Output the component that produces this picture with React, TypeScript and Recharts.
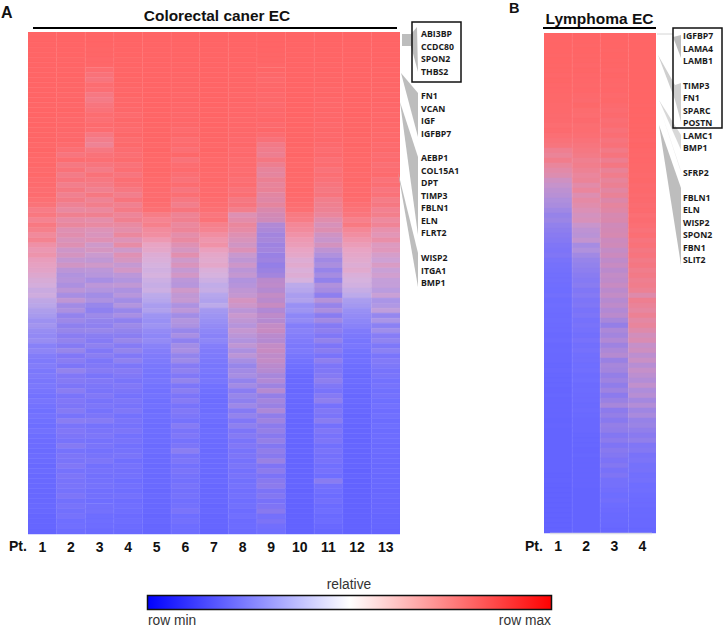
import { BarChart, Bar, Cell, XAxis, YAxis, ReferenceLine } from "recharts";

// expression per row, top to bottom (0 = row min, 100 = row max)
const crc1 = [
  99,99,99,99,99,99,99,99,99,99, 99,99,99,99,98,99,99,98,99,98, 98,98,97,98,97,96,97,95,96,94, 94,92,93,90,88,82,85,78,84,80,
  74,78,70,66,68,62,60,58,55,52, 50,46,48,42,40,36,34,30,32,28, 26,28,22,24,20,18,20,16,18,15, 16,14,12,14,12,10,12,10,9,11,
  9,8,8,7,8,7,6,7,6,6, 6,5,5,5,6,5,4,4,4,3,
];
const crc2 = [
  99,99,99,99,99,98,99,98,99,98, 98,98,97,98,97,98,97,96,97,96, 95,96,94,90,86,92,84,88,82,86, 80,84,78,82,76,70,78,68,72,62,
  64,58,62,52,56,48,54,44,40,42, 38,44,36,46,34,38,28,32,26,30, 24,28,22,30,20,24,18,28,20,22, 18,24,16,20,18,22,15,24,16,20,
  18,15,22,14,18,16,20,14,18,15, 16,14,18,12,15,12,14,10,11,9,
];
const crc3 = [
  99,99,99,98,98,97,97,92,88,86, 92,90,84,82,86,88,92,90,94,92, 84,80,76,84,88,90,86,82,88,84, 82,78,84,76,80,72,78,66,70,60,
  58,62,52,56,50,46,52,44,42,36, 44,40,34,38,30,26,32,28,26,30, 24,22,26,20,24,18,20,22,16,20, 18,16,20,15,18,14,17,22,14,16,
  18,14,16,13,15,18,12,14,12,13, 14,11,12,10,12,13,9,10,9,8,
];
const crc4 = [
  99,99,99,99,99,98,99,98,99,98, 98,97,98,96,97,96,94,96,95,94, 96,93,95,92,90,93,88,90,86,90, 88,84,80,86,78,82,74,78,70,66,
  72,60,68,52,62,56,48,54,44,40, 46,38,42,34,40,30,36,26,32,28, 24,30,22,28,20,26,18,22,20,16, 20,17,14,18,15,19,13,16,14,17,
  13,15,12,14,16,11,14,12,13,10, 12,10,13,9,11,10,8,9,8,7,
];
const crc5 = [
  99,99,99,99,99,99,99,99,99,99, 99,99,99,99,99,99,98,99,98,98, 98,98,97,98,97,97,96,97,96,95, 95,94,93,94,92,90,82,78,80,74,
  72,66,60,58,54,52,50,48,50,46, 44,46,40,38,34,36,30,28,30,26, 24,26,22,20,18,17,15,14,13,14, 12,11,12,10,11,9,10,9,8,9,
  8,8,7,8,7,7,6,7,6,6, 6,5,6,5,5,5,4,5,4,4,
];
const crc6 = [
  99,99,99,99,99,99,98,99,98,98, 98,98,97,98,97,97,96,97,96,94, 96,92,94,90,96,88,92,94,90,88, 92,86,90,84,80,86,76,78,72,74,
  66,70,62,56,64,52,58,48,54,44, 42,52,46,48,38,44,34,40,38,30, 36,26,34,36,28,32,22,26,20,28, 18,24,17,22,15,20,18,14,22,16,
  19,14,17,24,15,18,13,16,14,12, 15,12,14,11,13,16,10,12,9,9,
];
const crc7 = [
  99,99,99,99,99,99,99,99,99,99, 99,99,99,99,99,98,99,98,99,98, 98,98,97,98,97,96,97,96,95,96, 95,94,95,93,92,90,86,88,80,78,
  72,68,70,62,58,56,58,52,50,46, 42,44,38,36,40,32,30,28,26,24, 22,24,20,18,17,16,14,15,13,14, 11,10,9,8,9,8,10,8,7,8,
  8,7,7,6,7,6,6,6,5,6, 5,5,5,5,4,5,4,4,4,3,
];
const crc8 = [
  99,99,99,99,99,99,98,99,98,98, 98,98,97,98,97,97,97,96,97,96, 96,95,96,94,95,93,94,92,93,90, 92,88,90,84,86,80,62,66,72,68,
  62,58,54,60,50,46,52,44,48,40, 42,46,48,56,52,44,50,46,42,48, 44,40,46,38,44,36,30,34,36,28, 34,24,30,26,32,22,28,20,26,18,
  22,16,20,15,18,14,17,13,15,12, 14,11,13,10,12,9,11,8,9,8,
];
const crc9 = [
  99,99,99,99,98,98,97,98,96,95, 96,97,95,96,94,96,95,97,94,96, 92,88,82,80,78,84,78,72,70,76, 72,74,68,66,70,62,58,56,42,40,
  36,38,34,36,32,34,30,33,36,46, 48,44,50,46,52,42,48,44,50,52, 46,44,50,52,48,50,46,44,38,42, 34,44,30,36,32,40,28,34,26,30,
  24,30,22,28,24,32,20,26,18,24, 26,18,22,16,20,24,14,18,12,11,
];
const crc10 = [
  99,99,99,99,99,99,99,99,99,99, 99,99,99,99,99,99,99,98,99,98, 98,98,98,97,98,97,96,97,96,96, 95,96,95,94,92,90,84,82,76,74,
  70,66,64,60,58,54,56,52,54,50, 40,38,34,36,28,30,24,26,20,22, 20,18,16,17,14,12,10,8,6,6, 6,5,6,5,5,4,5,4,4,4,
  4,4,3,4,3,3,3,3,3,3, 3,2,3,2,2,2,2,2,2,2,
];
const crc11 = [
  99,99,99,99,99,99,98,99,98,98, 98,97,98,97,96,97,96,97,95,96, 95,96,94,92,94,90,92,88,90,88, 86,84,86,80,78,76,72,64,58,62,
  54,50,56,46,40,34,38,30,36,28, 40,36,26,42,30,38,24,34,22,26, 20,28,18,24,16,26,18,20,22,26, 20,16,22,26,14,20,17,24,13,19,
  15,18,12,16,13,15,11,14,10,24, 13,11,9,12,8,10,7,9,6,5,
];
const crc12 = [
  99,99,99,99,99,99,99,99,99,99, 99,99,99,99,98,99,99,98,98,98, 98,97,98,97,97,96,97,96,95,96, 95,94,95,93,90,88,86,80,84,76,
  72,68,64,60,58,56,54,56,52,50, 48,44,40,34,32,28,26,24,22,18, 16,14,15,12,10,11,9,8,7,8, 7,6,5,6,5,5,4,5,4,4,
  4,3,4,3,3,3,3,2,3,2, 2,2,2,2,2,2,2,2,2,2,
];
const crc13 = [
  99,99,99,99,99,99,99,98,99,98, 98,98,97,98,97,97,96,97,96,96, 95,96,94,95,92,94,90,92,94,88, 90,86,88,82,84,78,80,72,76,66,
  62,68,58,60,54,50,56,48,52,46, 46,42,48,36,38,44,28,36,24,32, 22,26,18,24,16,20,18,14,16,12, 14,11,13,10,12,9,11,8,10,8,
  9,8,7,8,7,7,6,7,6,6, 6,5,6,5,5,5,4,4,4,3,
];

const lym1 = [
  99,99,99,99,98,99,98,98,97,98, 97,97,96,96,95,95,94,94,92,93, 90,88,86,78,74,80,72,66,62,54, 50,46,44,40,38,34,30,32,28,26,
  24,22,20,18,20,16,14,13,12,12, 11,10,12,9,10,9,8,9,8,8, 7,8,6,7,6,6,5,6,5,5, 5,4,5,4,4,4,4,3,4,3,
  3,3,3,3,3,3,3,3,2,3, 2,2,2,2,2,2,2,2,2,2,
];
const lym2 = [
  99,99,98,99,98,98,97,98,97,97, 96,97,95,94,96,93,92,94,91,92, 90,88,86,84,82,78,80,76,72,74, 66,72,62,68,64,60,56,58,50,46,
  44,48,36,40,34,30,28,26,24,22, 24,20,22,18,20,16,18,14,16,14, 12,15,12,14,11,12,10,11,9,10, 8,9,8,8,7,8,7,6,6,6,
  5,5,5,4,5,4,4,4,4,4, 4,3,3,3,3,3,3,3,3,3,
];
const lym3 = [
  99,99,99,98,99,98,98,97,98,97, 96,97,95,96,94,92,94,90,92,88, 90,86,88,82,86,78,84,74,80,72, 76,68,74,64,70,66,60,62,56,58,
  60,54,56,50,54,48,52,46,50,48, 52,46,50,44,48,42,46,38,30,40, 36,42,34,40,44,32,38,36,30,34, 28,34,26,32,38,26,30,24,30,28,
  22,26,20,24,22,18,22,16,20,14, 14,12,10,12,9,8,7,7,6,5,
];
const lym4 = [
  99,99,99,99,99,99,99,99,99,99, 99,99,99,99,98,99,98,99,98,98, 98,97,98,97,96,97,96,96,95,96, 94,95,93,94,92,93,90,92,90,88,
  90,86,88,84,86,82,84,80,82,78, 80,76,64,78,74,70,76,68,72,64, 56,60,50,54,46,52,44,50,46,42, 48,40,44,36,42,34,38,30,32,28,
  24,28,20,22,16,18,14,15,12,13, 10,11,9,8,8,7,7,6,6,5,
];

const crcSeries = [crc1, crc2, crc3, crc4, crc5, crc6, crc7, crc8, crc9, crc10, crc11, crc12, crc13];
const lymSeries = [lym1, lym2, lym3, lym4];
const crcPatients = ["1", "2", "3", "4", "5", "6", "7", "8", "9", "10", "11", "12", "13"];
const lymPatients = ["1", "2", "3", "4"];

// how washed out each patient's column looks (1 = pale mid tones, 0 = purple mid tones)
const crcPale = [0.9, 0.45, 0.5, 0.5, 1, 0.5, 1, 0.45, 0.2, 1, 0.4, 1, 0.65];
const lymPale = [0.35, 0.4, 0.2, 0.3];

const crcGenes: [string, number][] = [
  ["ABI3BP", 34], ["CCDC80", 46.5], ["SPON2", 59], ["THBS2", 71.5],
  ["FN1", 96], ["VCAN", 108.5], ["IGF", 121], ["IGFBP7", 133.5],
  ["AEBP1", 158], ["COL15A1", 170.5], ["DPT", 183], ["TIMP3", 195.5], ["FBLN1", 208], ["ELN", 220.5], ["FLRT2", 233],
  ["WISP2", 258], ["ITGA1", 270.5], ["BMP1", 283],
];
const lymGenes: [string, number][] = [
  ["IGFBP7", 36], ["LAMA4", 48.5], ["LAMB1", 61],
  ["TIMP3", 86], ["FN1", 98], ["SPARC", 110.5], ["POSTN", 123], ["LAMC1", 135.5], ["BMP1", 148],
  ["SFRP2", 173],
  ["FBLN1", 197.5], ["ELN", 210], ["WISP2", 222.5], ["SPON2", 235], ["FBN1", 247.5], ["SLIT2", 260],
];

const paleStops = [
  [0, 96, 96, 255], [10, 112, 112, 255], [20, 132, 126, 250], [30, 158, 148, 242], [40, 188, 170, 234],
  [50, 214, 178, 222], [60, 232, 164, 196], [70, 240, 146, 168], [80, 246, 128, 140], [90, 252, 112, 116], [100, 255, 100, 100],
];
const satStops = [
  [0, 96, 96, 255], [10, 110, 108, 255], [20, 126, 114, 244], [30, 146, 122, 228], [40, 168, 128, 212],
  [50, 190, 130, 192], [60, 210, 130, 172], [70, 226, 130, 156], [80, 238, 124, 140], [90, 250, 110, 116], [100, 255, 100, 100],
];

function sample(stops: number[][], v: number) {
  for (let i = 1; i < stops.length; i++) {
    if (v <= stops[i][0]) {
      const a = stops[i - 1];
      const b = stops[i];
      const t = (v - a[0]) / (b[0] - a[0]);
      return [a[1] + (b[1] - a[1]) * t, a[2] + (b[2] - a[2]) * t, a[3] + (b[3] - a[3]) * t];
    }
  }
  return stops[stops.length - 1].slice(1);
}

function heatColor(v: number, pale: number) {
  const p = sample(paleStops, v);
  const s = sample(satStops, v);
  const c = p.map((x, i) => Math.round(x * pale + s[i] * (1 - pale)));
  return `rgb(${c[0]},${c[1]},${c[2]})`;
}

function Heatmap(props: any) {
  const { series, patients, pale, left, top, width, height } = props;
  const rows = series[0].map((_: number, i: number) => ({ row: i, unit: 1 }));
  const n = series.length;
  return (
    <div style={{ position: "absolute", left, top }}>
      <BarChart
        width={width}
        height={height + 28}
        data={rows}
        layout="vertical"
        barCategoryGap={0}
        margin={{ top: 0, right: 0, bottom: 0, left: 0 }}
      >
        <YAxis type="category" dataKey="row" hide />
        <XAxis
          type="number"
          domain={[0, n]}
          ticks={patients.map((_: string, i: number) => i + 0.5)}
          interval={0}
          tickFormatter={(v: number) => patients[Math.floor(v)]}
          axisLine={false}
          tickLine={false}
          height={28}
          tickMargin={2}
          tick={{ fontSize: 14, fontWeight: 700, fill: "#111", fontFamily: "Liberation Sans" }}
        />
        {series.map((col: number[], c: number) => (
          <Bar key={c} dataKey="unit" stackId="cols" isAnimationActive={false}>
            {col.map((v: number, i: number) => {
              const fill = heatColor(v, pale[c]);
              return <Cell key={i} fill={fill} stroke={fill} strokeWidth={0.5} />;
            })}
          </Bar>
        ))}
        {patients.slice(1).map((_: string, i: number) => (
          <ReferenceLine key={i} x={i + 1} stroke="rgba(255,255,255,0.08)" />
        ))}
      </BarChart>
    </div>
  );
}

function ColorBar() {
  return (
    <div style={{ position: "absolute", left: 147, top: 595 }}>
      <BarChart width={405} height={15} data={[{ name: "relative", unit: 1 }]} layout="vertical" barCategoryGap={0}
        margin={{ top: 0, right: 0, bottom: 0, left: 0 }}>
        <defs>
          <linearGradient id="rowScale" x1="0" x2="1" y1="0" y2="0">
            <stop offset="0" stopColor="#0000ff" />
            <stop offset="0.5" stopColor="#ffffff" />
            <stop offset="1" stopColor="#ff0000" />
          </linearGradient>
        </defs>
        <XAxis type="number" domain={[0, 1]} hide />
        <YAxis type="category" dataKey="name" hide />
        <Bar dataKey="unit" fill="url(#rowScale)" isAnimationActive={false} />
      </BarChart>
    </div>
  );
}

const wedge = "#bdbdbd";
const labelFont = { fontFamily: "Open Sans", fontWeight: 700, fontSize: 8.7, fill: "#1a1a1a" };

function Annotations() {
  return (
    <svg width={723} height={628} style={{ position: "absolute", left: 0, top: 0 }}>
      <g fontFamily="Liberation Sans" fill="#111">
        <text x={1} y={18} fontSize={16} fontWeight={700}>A</text>
        <text x={509} y={13.2} fontSize={14.5} fontWeight={700}>B</text>
        <text x={217} y={21} fontSize={15.4} fontWeight={700} textAnchor="middle">Colorectal caner EC</text>
        <text x={599.5} y={24} fontSize={15.5} fontWeight={700} textAnchor="middle">Lymphoma EC</text>
        <text x={9} y={551} fontSize={14} fontWeight={700}>Pt.</text>
        <text x={525} y={551} fontSize={14} fontWeight={700}>Pt.</text>
      </g>
      <line x1={33} x2={397} y1={28} y2={28} stroke="#000" strokeWidth={2} />
      <line x1={543} x2={656} y1={28} y2={28} stroke="#000" strokeWidth={2} />
      <line x1={550} x2={652} y1={533.5} y2={533.5} stroke="#d9dbe6" strokeWidth={1.5} />

      <polygon points="402,34 411,34 417,27 418,72 411,46 402,46" fill={wedge} />
      <polygon points="401,73 418,93 418,137" fill={wedge} />
      <polygon points="400,102 418,157 418,235" fill={wedge} />
      <polygon points="398,172 418,253 418,287" fill={wedge} />
      <polyline points="657,34 673,34" stroke="#d4d4d4" fill="none" />
      <polygon points="673,37 681,35 681,58" fill={wedge} />
      <polygon points="658,55 675,85 681,83 681,122 675,100" fill="#cfcfcf" />
      <polygon points="659,100 681,135 681,150" fill="#d8d8d8" />
      <polygon points="659,105 680,168 681,172" fill="#d8d8d8" />
      <polygon points="659,125 681,188 681,265" fill={wedge} />

      <rect x={412} y={22} width={49} height={60} fill="none" stroke="#111" strokeWidth={1.5} />
      <rect x={673} y={28} width={49} height={100} fill="none" stroke="#111" strokeWidth={1.5} />
      <rect x={147.5} y={595.5} width={404} height={14} fill="none" stroke="#111" strokeWidth={1.5} />

      {crcGenes.map(([g, y]) => (
        <text key={g} x={421} y={y + 3} {...labelFont}>{g}</text>
      ))}
      {lymGenes.map(([g, y]) => (
        <text key={g} x={683} y={y + 3} {...labelFont}>{g}</text>
      ))}

      <g fontFamily="Liberation Sans" fontSize={13.8} fill="#333">
        <text x={349} y={588.5} textAnchor="middle">relative</text>
        <text x={148} y={624.5}>row min</text>
        <text x={551} y={624.5} textAnchor="end">row max</text>
      </g>
    </svg>
  );
}

export default function App() {
  return (
    <div style={{ position: "absolute", left: 0, top: 0, width: 723, height: 628, background: "#fff", overflow: "hidden" }}>
      <Heatmap series={crcSeries} patients={crcPatients} pale={crcPale} left={28} top={32} width={372} height={502} />
      <Heatmap series={lymSeries} patients={lymPatients} pale={lymPale} left={543.5} top={33} width={112.5} height={500} />
      <ColorBar />
      <Annotations />
    </div>
  );
}
